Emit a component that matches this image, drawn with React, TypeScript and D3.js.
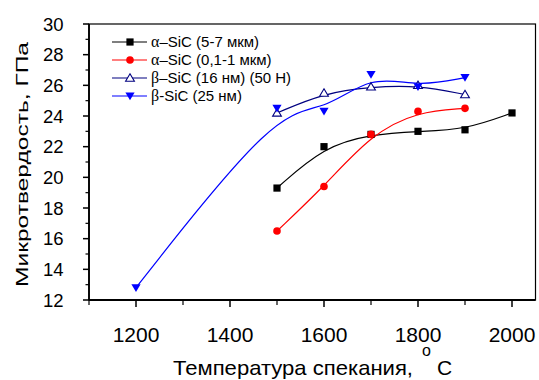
import React from 'react';
import * as d3 from 'd3';

// values
const tempsA = [1500, 1600, 1700, 1800, 1900, 2000];
const hardA = [19.3, 22.0, 22.8, 23.0, 23.1, 24.2];

const tempsB = [1500, 1600, 1700, 1800, 1900];
const hardB = [16.5, 19.4, 22.8, 24.3, 24.5];

const tempsC = [1500, 1600, 1700, 1800, 1900];
const hardC = [24.2, 25.5, 25.9, 26.0, 25.4];

const tempsD = [1200, 1500, 1600, 1700, 1800, 1900];
const hardD = [12.8, 24.5, 24.3, 26.7, 25.9, 26.5];

const xMajor = [1200, 1400, 1600, 1800, 2000];
const xMinor = [1100, 1300, 1500, 1700, 1900];
const yMajor = [12, 14, 16, 18, 20, 22, 24, 26, 28, 30];
const yMinor = [13, 15, 17, 19, 21, 23, 25, 27, 29];

// legend: greek prefix + rest
const seriesGreek = ['α', 'α', 'β', 'β'];
const seriesRest = ['–SiC (5-7 мкм)', '–SiC (0,1-1 мкм)', '–SiC (16 нм) (50 Н)', '-SiC (25 нм)'];
const seriesColors = ['#000000', '#ff0000', '#000080', '#0000ff'];

const W = 539;
const H = 380;
const FONT = '"Liberation Sans", Arial, sans-serif';
const SERIF = '"Liberation Serif", "Times New Roman", serif';

type Pt = [number, number];

function Marker({ kind, x, y, color }: { kind: number; x: number; y: number; color: string }) {
  if (kind === 0) return <rect x={x - 3.6} y={y - 3.6} width={7.2} height={7.2} fill={color} />;
  if (kind === 1) return <circle cx={x} cy={y} r={3.8} fill={color} />;
  if (kind === 2)
    return (
      <path
        d={`M${x},${y - 4.2}L${x + 4.4},${y + 3.2}L${x - 4.4},${y + 3.2}Z`}
        fill="#fff"
        stroke={color}
        strokeWidth={1.1}
      />
    );
  return <path d={`M${x - 4.6},${y - 3.6}L${x + 4.6},${y - 3.6}L${x},${y + 4.2}Z`} fill={color} />;
}

export default function App() {
  const x = d3.scaleLinear().domain([1100, 2050]).range([89, 535.5]);
  const y = d3.scaleLinear().domain([12, 30]).range([300, 24]);

  const series: Pt[][] = [
    tempsA.map((t, i) => [t, hardA[i]] as Pt),
    tempsB.map((t, i) => [t, hardB[i]] as Pt),
    tempsC.map((t, i) => [t, hardC[i]] as Pt),
    tempsD.map((t, i) => [t, hardD[i]] as Pt),
  ];

  const line = d3
    .line<Pt>()
    .x((d) => x(d[0]))
    .y((d) => y(d[1]))
    .curve(d3.curveBasis);

  const left = x.range()[0];
  const right = x.range()[1];
  const top = y.range()[1];
  const bottom = y.range()[0];

  return (
    <svg
      width={W}
      height={H}
      style={{ position: 'absolute', left: 0, top: 0, background: '#fff' }}
      fontFamily={FONT}
    >
      {/* frame */}
      <rect x={left} y={top} width={right - left} height={bottom - top} fill="none" stroke="#000" strokeWidth={1.2} />
      <line x1={left} x2={left} y1={top} y2={bottom} stroke="#000" strokeWidth={1.8} />
      <line x1={left} x2={right} y1={bottom} y2={bottom} stroke="#000" strokeWidth={1.8} />

      {/* y ticks */}
      {yMajor.map((v) => (
        <g key={'ym' + v}>
          <line x1={left - 6} x2={left} y1={y(v)} y2={y(v)} stroke="#000" strokeWidth={1.5} />
          <text x={63.5} y={y(v)} dy="0.36em" textAnchor="end" fontSize={18.5}>
            {v}
          </text>
        </g>
      ))}
      {yMinor.map((v) => (
        <line key={'yn' + v} x1={left - 3.5} x2={left} y1={y(v)} y2={y(v)} stroke="#000" strokeWidth={1.2} />
      ))}

      {/* x ticks */}
      {xMajor.map((v) => (
        <g key={'xm' + v}>
          <line x1={x(v)} x2={x(v)} y1={bottom} y2={bottom + 7} stroke="#000" strokeWidth={1.5} />
          <text x={x(v)} y={342} textAnchor="middle" fontSize={21}>
            {v}
          </text>
        </g>
      ))}
      {xMinor.map((v) => (
        <line key={'xn' + v} x1={x(v)} x2={x(v)} y1={bottom} y2={bottom + 5} stroke="#000" strokeWidth={1.2} />
      ))}

      {/* axis titles */}
      <text
        transform={`translate(28,164.5) rotate(-90)`}
        textAnchor="middle"
        fontSize={17}
        textLength={245}
        lengthAdjust="spacingAndGlyphs"
      >
        Микротвердость, ГПа
      </text>
      <text x={173} y={375} fontSize={21} textLength={240} lengthAdjust="spacingAndGlyphs">
        Температура спекания,
      </text>
      <text x={422} y={355.5} fontSize={16}>
        o
      </text>
      <text x={437} y={375} fontSize={21}>
        C
      </text>

      {/* curves */}
      {series.map((s, i) => (
        <path key={'l' + i} d={line(s) ?? ''} fill="none" stroke={seriesColors[i]} strokeWidth={1.2} />
      ))}
      {series.map((s, i) =>
        s.map((d, j) => <Marker key={`m${i}-${j}`} kind={i} x={x(d[0])} y={y(d[1])} color={seriesColors[i]} />)
      )}

      {/* legend */}
      {seriesRest.map((name, i) => {
        const ly = 42 + i * 18;
        return (
          <g key={'lg' + i}>
            <line x1={112} x2={147} y1={ly} y2={ly} stroke={seriesColors[i]} strokeWidth={1.2} />
            <Marker kind={i} x={130} y={ly} color={seriesColors[i]} />
            <text x={151} y={ly} dy="0.36em" fontSize={15}>
              <tspan fontFamily={SERIF} fontSize={16}>
                {seriesGreek[i]}
              </tspan>
              {name}
            </text>
          </g>
        );
      })}
    </svg>
  );
}
